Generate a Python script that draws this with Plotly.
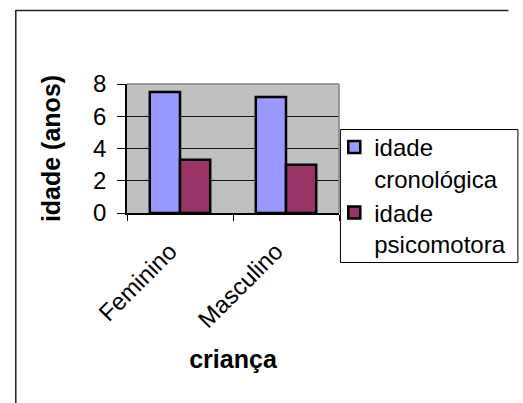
import plotly.graph_objects as go

categories = ["Feminino", "Masculino"]
idade_cronologica = [7.5, 7.2]
idade_psicomotora = [3.3, 3.0]
series_names = ["idade<br>cronológica", "idade<br>psicomotora"]
y_title = "idade (anos)"
x_title = "criança"

FONT = "Arial, 'Liberation Sans', sans-serif"

W, H = 523, 403
L, R, T, B = 127, 351, 84, 213  # plot area in page px


def px(x):
    return (x - L) / (R - L)


def py(y):
    return (B - y) / (B - T)


fig = go.Figure()
fig.add_trace(go.Bar(x=categories, y=idade_cronologica, name=series_names[0],
                     marker=dict(color="#9999FF", line=dict(color="black", width=2.5))))
fig.add_trace(go.Bar(x=categories, y=idade_psicomotora, name=series_names[1],
                     marker=dict(color="#993366", line=dict(color="black", width=2.5))))

fig.update_layout(
    width=W, height=H,
    margin=dict(l=L, r=W - R, t=T, b=H - B, pad=0),
    paper_bgcolor="white",
    plot_bgcolor="#C0C0C0",
    barmode="group",
    bargap=0.43,
    bargroupgap=0,
    font=dict(family=FONT, size=24, color="black"),
    showlegend=True,
    legend=dict(
        x=px(346), y=py(125), xanchor="left", yanchor="top",
        bgcolor="rgba(0,0,0,0)", borderwidth=0,
        font=dict(family=FONT, size=24, color="black"),
        valign="top", tracegroupgap=0,
        itemwidth=30, maxheight=300,
    ),
    xaxis=dict(
        showline=True, linecolor="black", linewidth=1.5,
        ticks="outside", ticklen=6, tickcolor="black", tickson="boundaries",
        tickangle=-45,
        tickfont=dict(family=FONT, size=24),
        ticklabelshift=-10, ticklabelstandoff=13,
        title=dict(text=x_title, font=dict(family=FONT, size=25, weight="bold"), standoff=19),
        automargin=False,
        showgrid=False,
    ),
    yaxis=dict(
        range=[0, 8], dtick=2, tick0=0,
        showline=True, linecolor="black", linewidth=1.5,
        ticks="outside", ticklen=8, tickcolor="black",
        tickfont=dict(family=FONT, size=24),
        ticklabelstandoff=6,
        showgrid=True, gridcolor="#111111", gridwidth=1,
        zeroline=False,
        title=dict(text=y_title, font=dict(family=FONT, size=25, weight="bold"), standoff=25),
        automargin=False,
    ),
    shapes=[
        dict(type="line", xref="paper", yref="paper", x0=0, x1=1, y0=1, y1=1,
             line=dict(color="#808080", width=1.5)),
        dict(type="line", xref="paper", yref="paper", x0=1, x1=1, y0=0, y1=1,
             line=dict(color="#808080", width=1.5)),
        dict(type="line", xref="paper", yref="paper", x0=px(9.5), x1=px(9.5), y0=py(10), y1=py(410),
             line=dict(color="#222222", width=1.5)),
        dict(type="line", xref="paper", yref="paper", x0=px(9.5), x1=px(530), y0=py(10.5), y1=py(10.5),
             line=dict(color="#222222", width=1.5)),
        dict(type="rect", xref="paper", yref="paper", x0=px(352.5), x1=px(540), y0=py(129.5), y1=py(262.5),
             line=dict(color="black", width=1), fillcolor="rgba(0,0,0,0)", layer="below"),
    ],
)

fig.write_html(
    "out.html",
    config={"displayModeBar": False},
    post_script="document.body.style.margin='0';document.body.style.overflow='hidden';",
)
